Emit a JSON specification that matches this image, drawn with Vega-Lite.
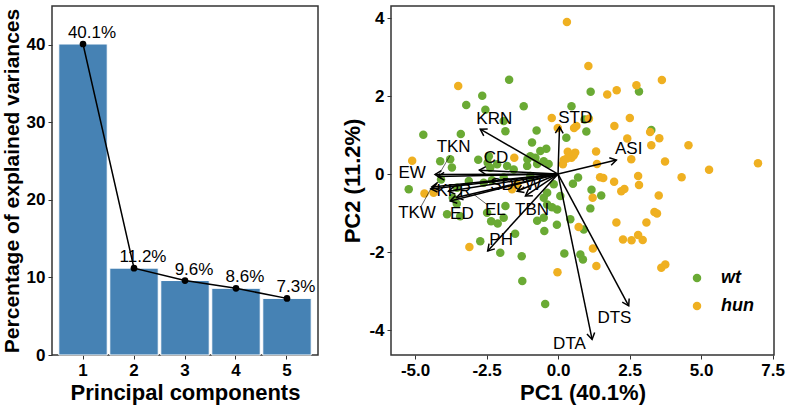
{
  "$schema": "https://vega.github.io/schema/vega-lite/v6.json",
  "padding": {"left": 0, "top": 5, "right": 2, "bottom": 2},
  "config": {
    "font": "Liberation Sans",
    "view": {"stroke": "#333333", "strokeWidth": 1.5},
    "axis": {"grid": false, "domain": false, "tickColor": "#333333", "tickSize": 4, "tickWidth": 1, "labelFontWeight": "bold", "labelFontSize": 17, "labelColor": "black", "titleFontWeight": "bold", "titleFontSize": 22, "titleColor": "black", "labelPadding": 3, "titlePadding": 4}
  },
  "spacing": 22,
  "resolve": {"scale": {"color": "independent"}, "legend": {"color": "independent"}},
  "datasets": {
    "scree": [
      {"pc": "1", "variance": 40.1, "label": "40.1%"},
      {"pc": "2", "variance": 11.2, "label": "11.2%"},
      {"pc": "3", "variance": 9.6, "label": "9.6%"},
      {"pc": "4", "variance": 8.6, "label": "8.6%"},
      {"pc": "5", "variance": 7.3, "label": "7.3%"}
    ],
    "scores": [
      {"group": "wt", "x": -1.71, "y": 2.42}, {"group": "wt", "x": -2.65, "y": 2.01}, {"group": "wt", "x": -3.21, "y": 1.77},
      {"group": "wt", "x": -1.2, "y": 1.74}, {"group": "wt", "x": -2.54, "y": 1.65}, {"group": "wt", "x": 0.47, "y": 1.74},
      {"group": "wt", "x": -1.9, "y": 1.36}, {"group": "wt", "x": -1.84, "y": 1.1}, {"group": "wt", "x": -4.71, "y": 1.01},
      {"group": "wt", "x": -3.4, "y": 1.03}, {"group": "wt", "x": -0.75, "y": 1.12}, {"group": "wt", "x": -0.91, "y": 0.81},
      {"group": "wt", "x": -0.41, "y": 0.65}, {"group": "wt", "x": -4.12, "y": 0.33}, {"group": "wt", "x": -3.71, "y": 0.17},
      {"group": "wt", "x": -2.79, "y": 0.37}, {"group": "wt", "x": -1.07, "y": 0.38}, {"group": "wt", "x": -0.79, "y": 0.42},
      {"group": "wt", "x": -0.33, "y": 0.26}, {"group": "wt", "x": -2.46, "y": 0.29}, {"group": "wt", "x": -2.13, "y": 0.25},
      {"group": "wt", "x": 1.14, "y": 2.11}, {"group": "wt", "x": 2.83, "y": 2.12}, {"group": "wt", "x": 0.93, "y": 1.4},
      {"group": "wt", "x": 0.99, "y": 1.09}, {"group": "wt", "x": 3.26, "y": 1.13}, {"group": "wt", "x": 0.29, "y": 0.93},
      {"group": "wt", "x": 1.17, "y": -0.4}, {"group": "wt", "x": 1.51, "y": -0.55}, {"group": "wt", "x": 0.7, "y": -0.09},
      {"group": "wt", "x": 0.52, "y": -0.25}, {"group": "wt", "x": -2.42, "y": 0.46}, {"group": "wt", "x": -5.22, "y": -0.39},
      {"group": "wt", "x": -3.88, "y": -1.03}, {"group": "wt", "x": -3.54, "y": -0.76}, {"group": "wt", "x": -2.34, "y": -1.21},
      {"group": "wt", "x": -2.11, "y": -1.27}, {"group": "wt", "x": -1.5, "y": -1.53}, {"group": "wt", "x": -2.72, "y": -1.72},
      {"group": "wt", "x": -2.02, "y": -2.02}, {"group": "wt", "x": -1.27, "y": -2.11}, {"group": "wt", "x": -1.25, "y": -2.74},
      {"group": "wt", "x": -0.45, "y": -3.33}, {"group": "wt", "x": -0.48, "y": -1.46}, {"group": "wt", "x": -0.04, "y": -1.3},
      {"group": "wt", "x": -0.38, "y": -0.78}, {"group": "wt", "x": -0.03, "y": -0.91}, {"group": "wt", "x": 0.43, "y": -1.16},
      {"group": "wt", "x": 0.9, "y": -1.42}, {"group": "wt", "x": 0.22, "y": -2.04}, {"group": "wt", "x": 0.78, "y": -2.06},
      {"group": "wt", "x": 0.87, "y": -2.19}, {"group": "wt", "x": 1.13, "y": -0.88}, {"group": "wt", "x": -2.37, "y": 0.16},
      {"group": "wt", "x": -1.78, "y": 0.21}, {"group": "wt", "x": -1.55, "y": 0.12}, {"group": "wt", "x": -1.08, "y": 0.21},
      {"group": "wt", "x": -0.73, "y": 0.26}, {"group": "wt", "x": -3.77, "y": 0.38}, {"group": "wt", "x": -3.12, "y": -0.18},
      {"group": "wt", "x": -2.6, "y": -0.22}, {"group": "wt", "x": -2.31, "y": -0.16}, {"group": "wt", "x": -1.9, "y": -0.09},
      {"group": "wt", "x": -0.97, "y": -0.05}, {"group": "wt", "x": -3.42, "y": -1.08}, {"group": "wt", "x": -2.48, "y": -0.99},
      {"group": "wt", "x": -0.5, "y": -0.61}, {"group": "wt", "x": -0.21, "y": -0.85}, {"group": "wt", "x": -0.73, "y": -1.2},
      {"group": "wt", "x": -1.84, "y": -0.82}, {"group": "wt", "x": -3.53, "y": -0.35}, {"group": "wt", "x": -4.09, "y": -0.14},
      {"group": "wt", "x": -3.68, "y": -0.61}, {"group": "wt", "x": -1.9, "y": -1.12}, {"group": "wt", "x": -0.5, "y": -1.12},
      {"group": "wt", "x": -0.38, "y": -0.48}, {"group": "wt", "x": -0.15, "y": -0.26}, {"group": "wt", "x": 0.08, "y": -0.56},
      {"group": "wt", "x": -0.62, "y": 0.59}, {"group": "wt", "x": -0.5, "y": 0.33}, {"group": "wt", "x": -0.97, "y": 0.46},
      {"group": "hun", "x": 0.31, "y": 3.9}, {"group": "hun", "x": -3.49, "y": 2.26}, {"group": "hun", "x": -0.22, "y": 1.44},
      {"group": "hun", "x": -0.01, "y": 1.18}, {"group": "hun", "x": 0.56, "y": 1.18}, {"group": "hun", "x": 0.64, "y": 1.23},
      {"group": "hun", "x": -5.1, "y": 0.34}, {"group": "hun", "x": -1.53, "y": 0.42}, {"group": "hun", "x": 0.34, "y": 0.57},
      {"group": "hun", "x": 0.47, "y": 0.42}, {"group": "hun", "x": 0.2, "y": 0.36}, {"group": "hun", "x": 0.55, "y": 0.48},
      {"group": "hun", "x": 1.06, "y": 2.77}, {"group": "hun", "x": 3.63, "y": 2.41}, {"group": "hun", "x": 1.72, "y": 2.04},
      {"group": "hun", "x": 2.05, "y": 2.15}, {"group": "hun", "x": 2.74, "y": 2.28}, {"group": "hun", "x": 1.08, "y": 1.42},
      {"group": "hun", "x": 1.97, "y": 1.23}, {"group": "hun", "x": 2.51, "y": 1.44}, {"group": "hun", "x": 2.42, "y": 0.91},
      {"group": "hun", "x": 3.22, "y": 1.08}, {"group": "hun", "x": 3.54, "y": 0.92}, {"group": "hun", "x": 3.26, "y": 0.74},
      {"group": "hun", "x": 4.56, "y": 0.74}, {"group": "hun", "x": 1.33, "y": 0.58}, {"group": "hun", "x": 2.56, "y": 0.38},
      {"group": "hun", "x": 3.74, "y": 0.32}, {"group": "hun", "x": 1.36, "y": 0.26}, {"group": "hun", "x": 6.99, "y": 0.28},
      {"group": "hun", "x": 5.28, "y": 0.11}, {"group": "hun", "x": 1.47, "y": -0.08}, {"group": "hun", "x": 1.58, "y": -0.1},
      {"group": "hun", "x": 2.8, "y": -0.05}, {"group": "hun", "x": 4.32, "y": -0.08}, {"group": "hun", "x": 1.96, "y": -0.2},
      {"group": "hun", "x": 1.21, "y": -0.61}, {"group": "hun", "x": 2.21, "y": -0.44}, {"group": "hun", "x": 2.32, "y": -0.38},
      {"group": "hun", "x": 2.83, "y": -0.28}, {"group": "hun", "x": 3.52, "y": -0.55}, {"group": "hun", "x": 0.6, "y": 0.55},
      {"group": "hun", "x": 0.31, "y": 0.4}, {"group": "hun", "x": 0.17, "y": 0.25}, {"group": "hun", "x": -4.67, "y": -0.5},
      {"group": "hun", "x": -4.35, "y": -0.48}, {"group": "hun", "x": -3.1, "y": -1.87}, {"group": "hun", "x": -0.02, "y": -2.52},
      {"group": "hun", "x": 0.72, "y": -1.36}, {"group": "hun", "x": 1.22, "y": -1.91}, {"group": "hun", "x": 1.34, "y": -2.36},
      {"group": "hun", "x": 2.04, "y": -1.24}, {"group": "hun", "x": 2.27, "y": -1.68}, {"group": "hun", "x": 2.57, "y": -1.7},
      {"group": "hun", "x": 2.8, "y": -1.56}, {"group": "hun", "x": 2.96, "y": -1.69}, {"group": "hun", "x": 3.09, "y": -1.24},
      {"group": "hun", "x": 3.37, "y": -0.97}, {"group": "hun", "x": 3.46, "y": -1.01}, {"group": "hun", "x": 3.61, "y": -2.4},
      {"group": "hun", "x": 3.75, "y": -2.32}, {"group": "hun", "x": -1.61, "y": -0.39}, {"group": "hun", "x": -1.43, "y": -0.26}
    ],
    "loadings": [
      {"var": "STD", "x": 0.05, "y": 1.21, "lx": 0.6, "ly": 1.43},
      {"var": "KRN", "x": -2.72, "y": 1.15, "lx": -2.23, "ly": 1.42},
      {"var": "ASI", "x": 2.04, "y": 0.36, "lx": 2.47, "ly": 0.63},
      {"var": "TKN", "x": -4.2, "y": -0.06, "lx": -3.65, "ly": 0.7},
      {"var": "EW", "x": -4.3, "y": -0.01, "lx": -5.1, "ly": 0.04},
      {"var": "CD", "x": -2.75, "y": 0.1, "lx": -2.17, "ly": 0.4},
      {"var": "KPR", "x": -4.41, "y": -0.33, "lx": -3.64, "ly": -0.44},
      {"var": "TKW", "x": -4.45, "y": -0.38, "lx": -4.93, "ly": -0.99},
      {"var": "ED", "x": -3.77, "y": -0.69, "lx": -3.36, "ly": -1.03},
      {"var": "EL", "x": -3.55, "y": -0.6, "lx": -2.19, "ly": -0.93},
      {"var": "TBN", "x": -1.14, "y": -0.56, "lx": -0.91, "ly": -0.91},
      {"var": "CW", "x": -1.43, "y": -0.44, "lx": -1.08, "ly": -0.27},
      {"var": "SD", "x": -3.83, "y": -0.44, "lx": -1.96, "ly": -0.27},
      {"var": "PH", "x": -2.46, "y": -1.97, "lx": -1.99, "ly": -1.68},
      {"var": "DTA", "x": 1.19, "y": -4.24, "lx": 0.4, "ly": -4.35},
      {"var": "DTS", "x": 2.47, "y": -3.38, "lx": 1.97, "ly": -3.7}
    ],
    "connectors": [
      {"x": -3.78, "y": 0.47, "x2": -4.18, "y2": -0.03},
      {"x": -4.78, "y": -0.82, "x2": -4.45, "y2": -0.38},
      {"x": -2.45, "y": -0.8, "x2": -2.95, "y2": -0.52}
    ]
  },
  "hconcat": [
    {
      "width": 266,
      "height": 349,
      "data": {"name": "scree"},
      "encoding": {
        "x": {"field": "pc", "type": "ordinal", "scale": {"paddingInner": 0.05, "paddingOuter": 0.133}, "axis": {"labelAngle": 0, "title": "Principal components"}},
        "y": {"field": "variance", "type": "quantitative", "scale": {"domain": [0, 45], "nice": false}, "axis": {"values": [0, 10, 20, 30, 40], "title": "Percentage of explained variances", "titleFontSize": 21}}
      },
      "layer": [
        {"mark": {"type": "bar", "color": "#4682B4", "stroke": "white", "strokeWidth": 1}},
        {"mark": {"type": "line", "color": "black", "strokeWidth": 1.5}},
        {"mark": {"type": "point", "filled": true, "color": "black", "size": 45, "opacity": 1}},
        {"mark": {"type": "text", "dy": -11, "dx": 9, "fontSize": 17, "color": "black"}, "encoding": {"text": {"field": "label"}}}
      ]
    },
    {
      "width": 383,
      "height": 349,
      "layer": [
        {
          "mark": {"type": "rule", "strokeDash": [7, 5], "strokeWidth": 1.6, "color": "black"},
          "encoding": {"x": {"datum": 0, "type": "quantitative", "scale": {"domain": [-5.84, 7.55], "nice": false, "zero": false}}}
        },
        {
          "mark": {"type": "rule", "strokeDash": [7, 5], "strokeWidth": 1.6, "color": "black"},
          "encoding": {"y": {"datum": 0, "type": "quantitative", "scale": {"domain": [-4.64, 4.31], "nice": false, "zero": false}}}
        },
        {
          "data": {"name": "scores"},
          "mark": {"type": "circle", "size": 72, "opacity": 1},
          "encoding": {
            "x": {"field": "x", "type": "quantitative", "scale": {"domain": [-5.84, 7.55], "nice": false, "zero": false},
              "axis": {"values": [-5, -2.5, 0, 2.5, 5, 7.5], "labelExpr": "datum.value < 0 ? '-' + format(-datum.value, '.1f') : format(datum.value, '.1f')", "title": "PC1 (40.1%)"}},
            "y": {"field": "y", "type": "quantitative", "scale": {"domain": [-4.64, 4.31], "nice": false, "zero": false},
              "axis": {"values": [-4, -2, 0, 2, 4], "labelExpr": "datum.value < 0 ? '-' + format(-datum.value, 'd') : format(datum.value, 'd')", "title": "PC2 (11.2%)"}},
            "color": {"field": "group", "type": "nominal", "scale": {"domain": ["wt", "hun"], "range": ["#6aaa34", "#efb021"]},
              "legend": {"title": null, "orient": "none", "legendX": 297, "legendY": 263, "labelFontStyle": "italic", "labelFontWeight": "bold", "labelFontSize": 18, "labelColor": "black", "symbolSize": 72, "symbolType": "circle", "rowPadding": 10, "labelOffset": 15}}
          }
        },
        {
          "data": {"name": "loadings"},
          "mark": {"type": "rule", "color": "black", "strokeWidth": 1.5},
          "encoding": {
            "x": {"field": "x", "type": "quantitative", "scale": {"domain": [-5.84, 7.55], "nice": false, "zero": false}},
            "y": {"field": "y", "type": "quantitative", "scale": {"domain": [-4.64, 4.31], "nice": false, "zero": false}},
            "x2": {"datum": 0},
            "y2": {"datum": 0}
          }
        },
        {
          "data": {"name": "loadings"},
          "transform": [{"calculate": "atan2(-datum.y * 39.0, datum.x * 28.6) * 180 / PI", "as": "ang"}],
          "mark": {"type": "point", "shape": "M-1,-0.62L0,0L-1,0.62", "filled": false, "color": "black", "strokeWidth": 1.5, "size": 160, "opacity": 1},
          "encoding": {
            "x": {"field": "x", "type": "quantitative", "scale": {"domain": [-5.84, 7.55], "nice": false, "zero": false}},
            "y": {"field": "y", "type": "quantitative", "scale": {"domain": [-4.64, 4.31], "nice": false, "zero": false}},
            "angle": {"field": "ang", "type": "quantitative", "scale": null}
          }
        },
        {
          "data": {"name": "connectors"},
          "mark": {"type": "rule", "color": "black", "strokeWidth": 0.6},
          "encoding": {
            "x": {"field": "x", "type": "quantitative", "scale": {"domain": [-5.84, 7.55], "nice": false, "zero": false}},
            "y": {"field": "y", "type": "quantitative", "scale": {"domain": [-4.64, 4.31], "nice": false, "zero": false}},
            "x2": {"field": "x2"},
            "y2": {"field": "y2"}
          }
        },
        {
          "data": {"name": "loadings"},
          "mark": {"type": "text", "fontSize": 17, "color": "black"},
          "encoding": {
            "x": {"field": "lx", "type": "quantitative", "scale": {"domain": [-5.84, 7.55], "nice": false, "zero": false}},
            "y": {"field": "ly", "type": "quantitative", "scale": {"domain": [-4.64, 4.31], "nice": false, "zero": false}},
            "text": {"field": "var"}
          }
        }
      ]
    }
  ]
}
